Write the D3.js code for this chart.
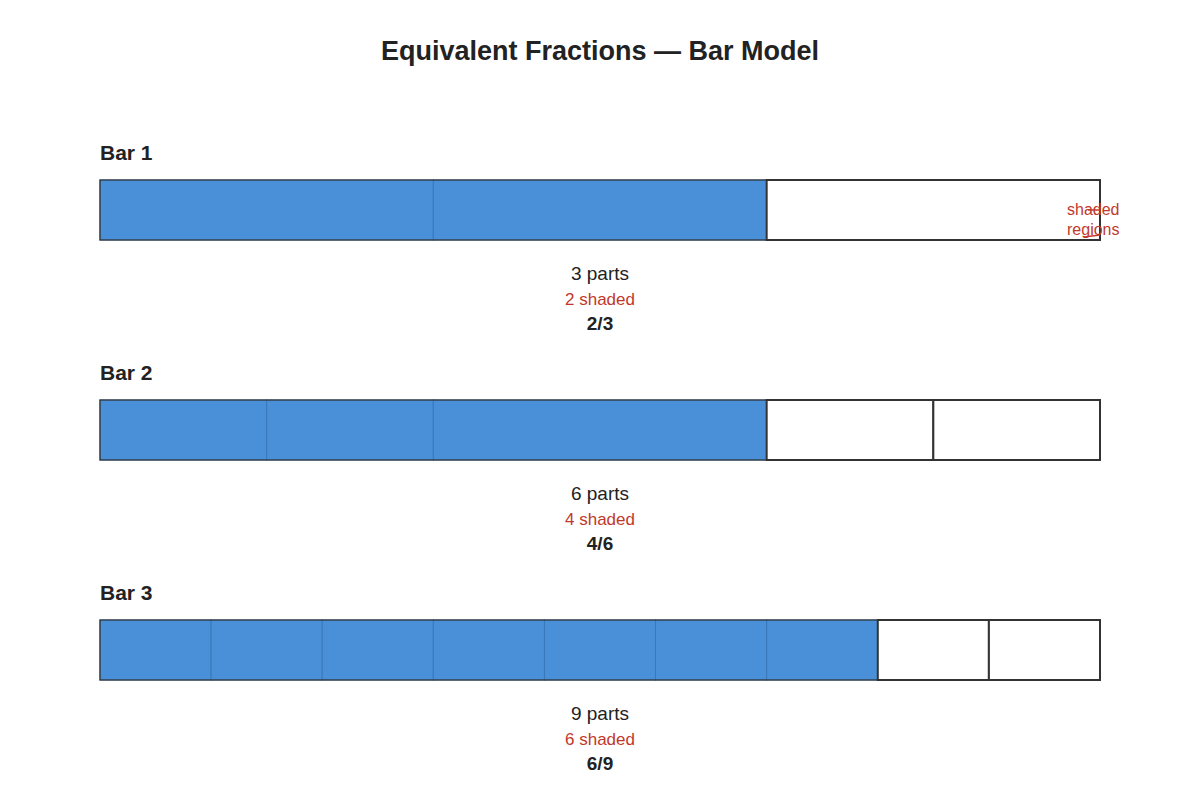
<!DOCTYPE html>
<html><head><meta charset="utf-8">
<script src="https://cdn.jsdelivr.net/npm/d3@7"></script>
<style>body{margin:0;background:#fff}text{font-family:"Liberation Sans",Arial,sans-serif}</style>
</head><body><svg id="c" width="1200" height="800"></svg>
<script>
// segment widths in units of the bar's denominator, and which are shaded
var barNames = ['Bar 1','Bar 2','Bar 3'];
var denoms = [3,6,9];
var segWidths = [[1,1,1],[1,1,2,1,1],[1,1,1,1,1,1,1,1,1]];
var segShaded = [[1,1,0],[1,1,1,0,0],[1,1,1,1,1,1,1,0,0]];
var partsLabels = ['3 parts','6 parts','9 parts'];
var shadedLabels = ['2 shaded','4 shaded','6 shaded'];
var fracLabels = ['2/3','4/6','6/9'];

var svg = d3.select('#c');
svg.append('text').attr('x',600).attr('y',60).attr('text-anchor','middle')
  .attr('font-size',27).attr('font-weight','bold').attr('fill','#222')
  .text('Equivalent Fractions \u2014 Bar Model');

var x = d3.scaleLinear().domain([0,1]).range([100,1100]);
var y = d3.scaleBand().domain(barNames).range([140,800]);

barNames.forEach(function(name,i){
  var top = y(name);
  var g = svg.append('g');
  g.append('text').attr('x',100).attr('y',top+20).attr('font-size',21)
    .attr('font-weight','bold').attr('fill','#222').text(name);
  var acc=0, segs=[];
  segWidths[i].forEach(function(w,j){segs.push({a:acc/denoms[i],b:(acc+w)/denoms[i],s:segShaded[i][j]});acc+=w;});
  g.selectAll('rect.seg').data(segs).enter().append('rect')
    .attr('x',function(d){return x(d.a);}).attr('width',function(d){return x(d.b)-x(d.a);})
    .attr('y',top+40).attr('height',60)
    .attr('fill',function(d){return d.s?'#4a90d9':'#fff';})
    .attr('stroke',function(d){return d.s?'#3a78b8':'#333';})
    .attr('stroke-width',function(d){return d.s?1:2;});
  g.append('rect').attr('x',x(0)).attr('y',top+40).attr('width',x(1)-x(0)).attr('height',60)
    .attr('fill','none').attr('stroke','#333').attr('stroke-width',1.2);
  g.append('text').attr('x',600).attr('y',top+140).attr('text-anchor','middle').attr('font-size',19).attr('fill','#222').text(partsLabels[i]);
  g.append('text').attr('x',600).attr('y',top+165).attr('text-anchor','middle').attr('font-size',17).attr('fill','#c0392b').text(shadedLabels[i]);
  g.append('text').attr('x',600).attr('y',top+190).attr('text-anchor','middle').attr('font-size',19).attr('font-weight','bold').attr('fill','#222').text(fracLabels[i]);
});

var ann = svg.append('g');
ann.append('text').attr('x',1067).attr('y',215).attr('font-size',16).attr('fill','#c0392b').text('shaded');
ann.append('text').attr('x',1067).attr('y',235).attr('font-size',16).attr('fill','#c0392b').text('regions');
ann.append('line').attr('x1',1088).attr('y1',210).attr('x2',1100).attr('y2',210).attr('stroke','#c0392b').attr('stroke-width',1.5);
ann.append('line').attr('x1',1084).attr('y1',237).attr('x2',1100).attr('y2',235).attr('stroke','#c0392b').attr('stroke-width',1.5);
</script></body></html>
